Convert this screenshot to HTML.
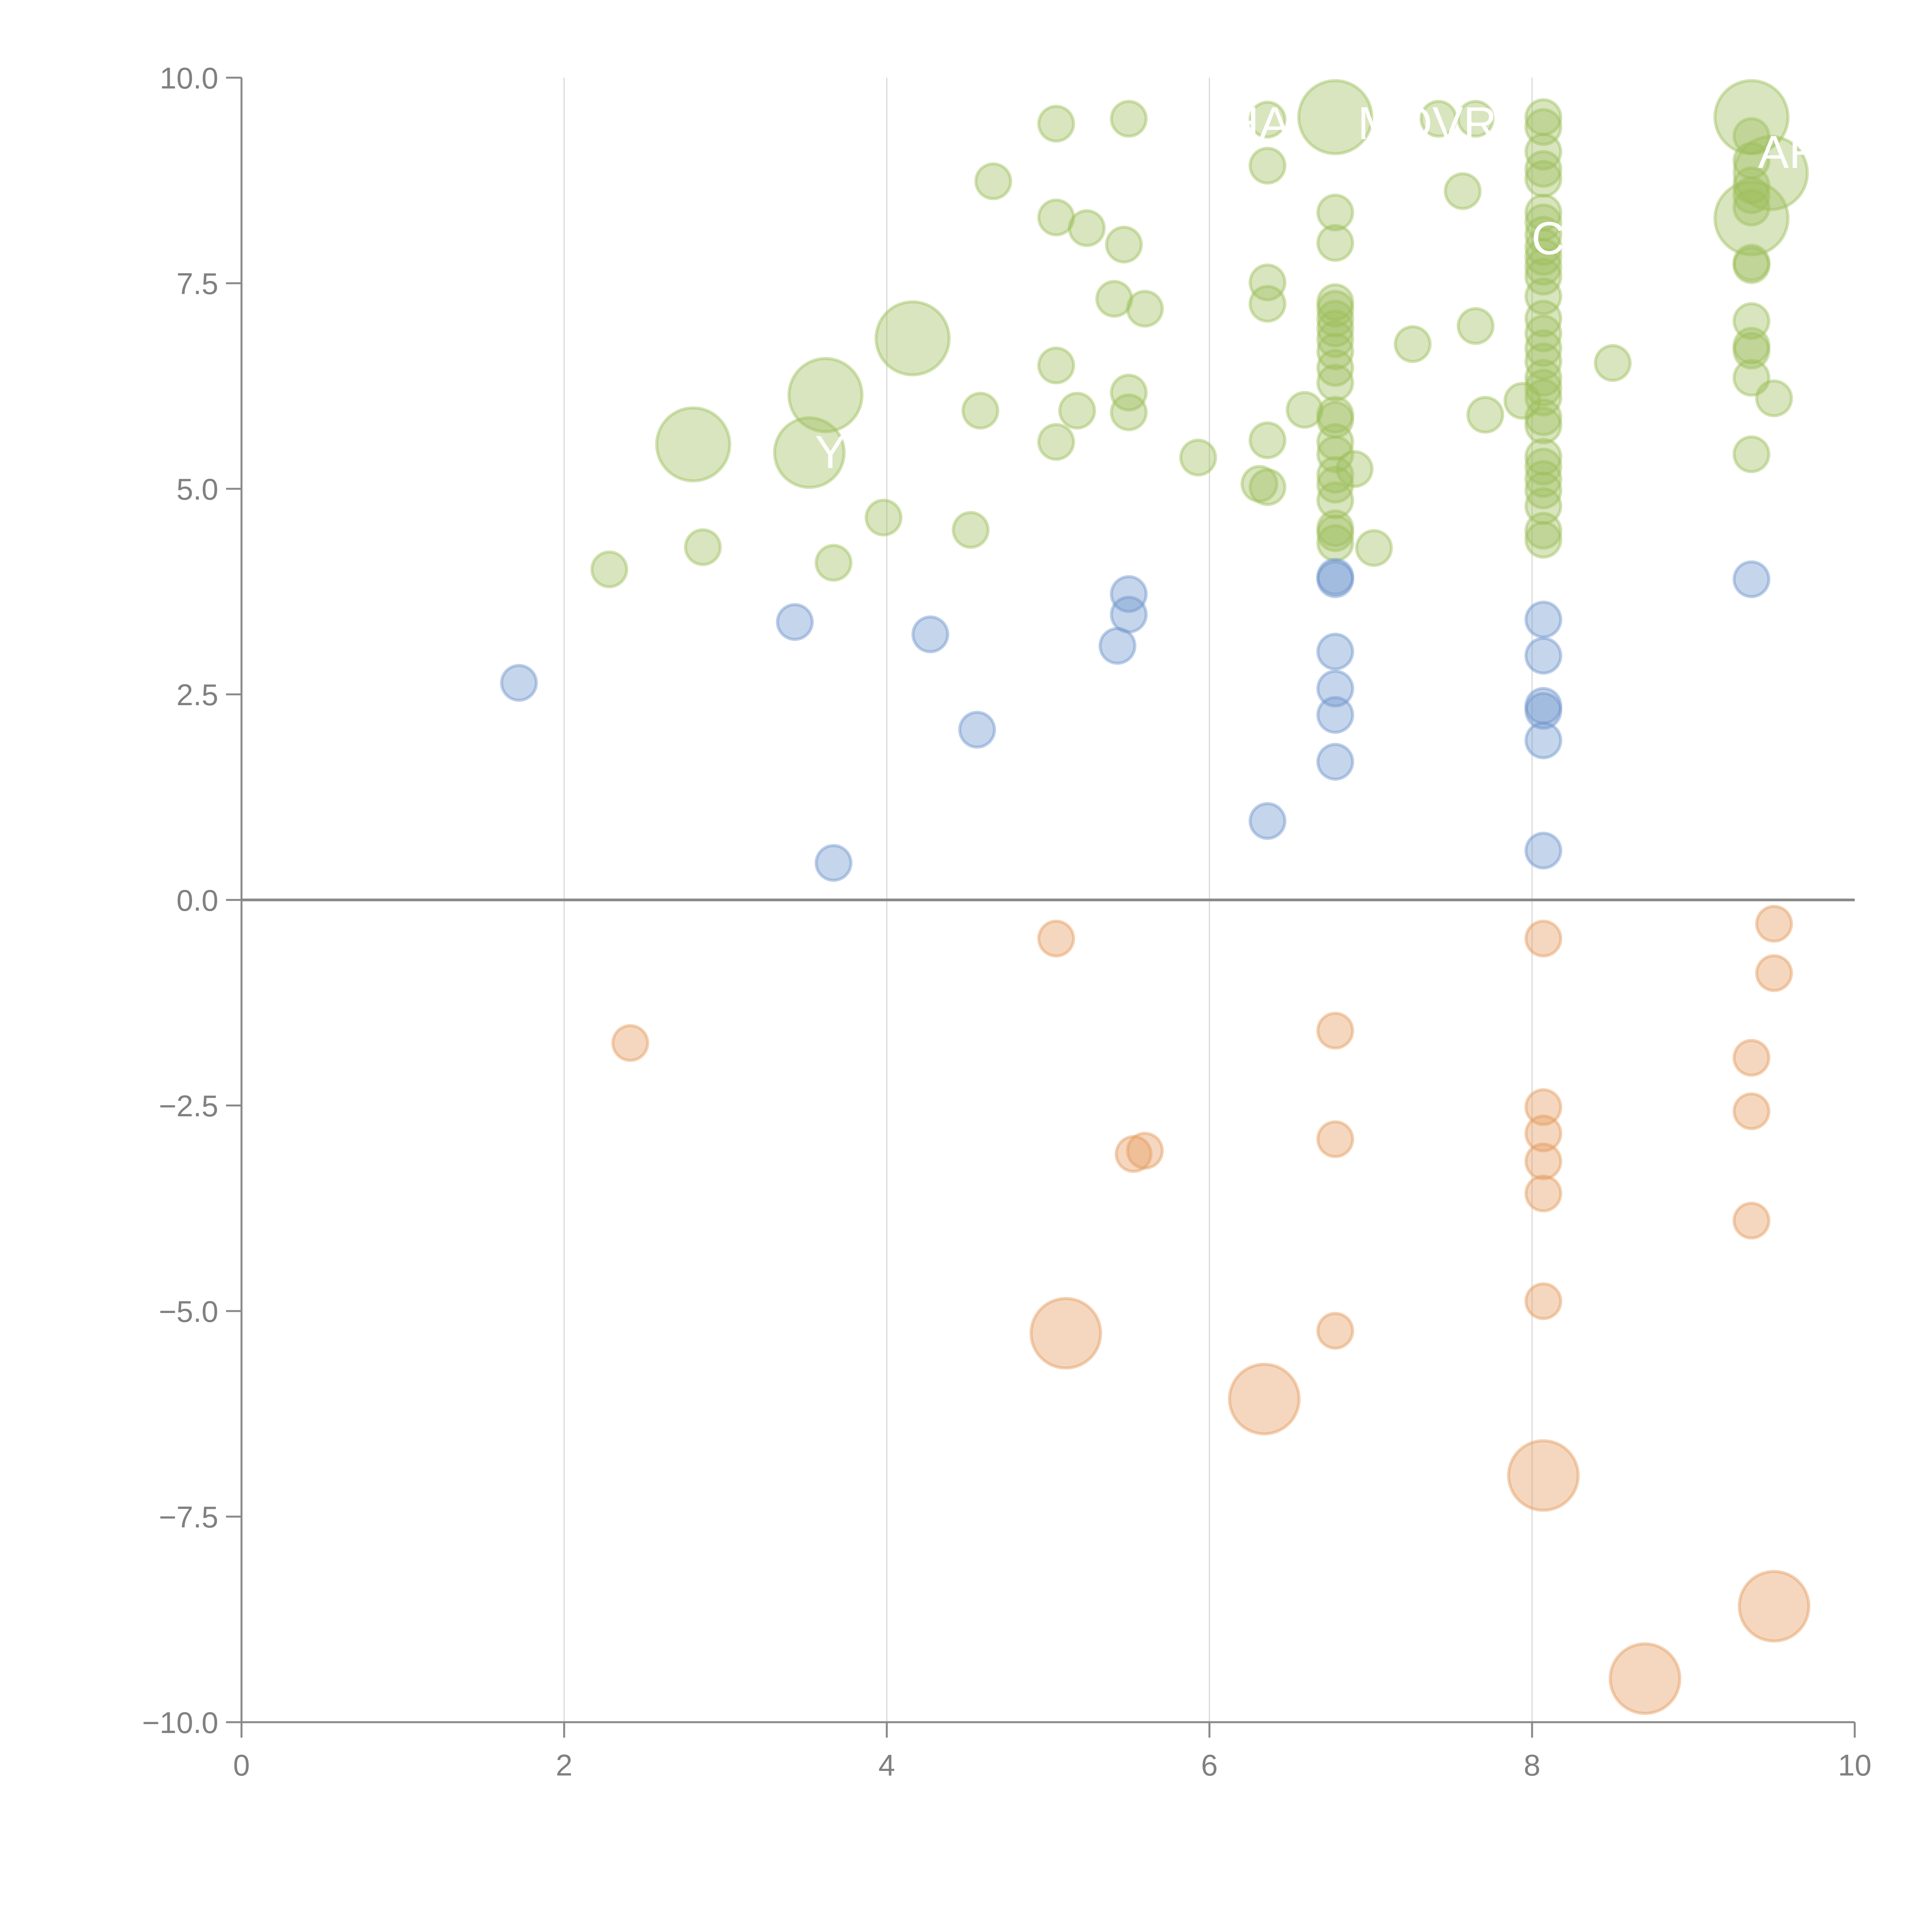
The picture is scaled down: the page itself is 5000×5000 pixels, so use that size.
<!DOCTYPE html>
<html><head><meta charset="utf-8">
<style>
html,body{margin:0;padding:0;background:#fff;}
svg{display:block;}
text{font-family:"Liberation Sans",sans-serif;}
</style></head>
<body>
<svg id="chart" width="5000" height="5000" viewBox="0 0 5000 5000" xmlns="http://www.w3.org/2000/svg">
<g id="grid"></g>
<g id="axes"></g>
<g id="marks"></g>
<g id="labels"></g>
</svg>
<script>
const xTicks = [0, 2, 4, 6, 8, 10];
const xTickLabels = ["0", "2", "4", "6", "8", "10"];
const yTicks = [10, 7.5, 5, 2.5, 0, -2.5, -5, -7.5, -10];
const yTickLabels = ["10.0", "7.5", "5.0", "2.5", "0.0", "\u22122.5", "\u22125.0", "\u22127.5", "\u221210.0"];

const greenX = [5.05,5.50,4.66,5.05,5.24,5.47,5.41,5.60,5.05,5.18,5.50,5.50,4.58,5.05,5.93,3.98,4.52,3.67,2.86,2.28,6.36,6.36,6.36,6.36,6.59,6.36,6.31,6.36,7.26,7.57,7.42,7.65,7.65,7.71,8.50,7.94,9.50,7.02,6.90,
 6.78,6.78,6.78,6.78,6.78,6.78,6.78,6.78,6.78,6.78,6.78,6.78,6.78,6.78,6.78,6.78,6.78,6.78,6.78,6.78,
 8.07,8.07,8.07,8.07,8.07,8.07,8.07,8.07,8.07,8.07,8.07,8.07,8.07,8.07,8.07,8.07,8.07,8.07,8.07,8.07,8.07,8.07,8.07,8.07,8.07,8.07,8.07,8.07,8.07,
 9.36,9.36,9.36,9.36,9.36,9.36,9.36,9.36,9.36,9.36,9.36,9.36,
 6.78,9.36,9.48,9.36,4.16,3.62,2.80,3.52];
const greenY = [9.44,9.50,8.74,8.30,8.17,7.97,7.31,7.19,6.50,5.95,6.17,5.93,5.95,5.57,5.38,4.65,4.50,4.10,4.29,4.02,9.49,8.93,7.51,7.25,5.96,5.59,5.06,5.02,6.76,8.62,9.50,9.50,6.98,5.90,6.53,6.07,6.10,4.28,5.24,
 8.36,7.99,7.27,7.19,7.07,6.95,6.82,6.67,6.47,6.29,5.90,5.84,5.57,5.42,5.17,5.05,4.86,4.52,4.46,4.34,
 9.52,9.40,9.10,8.89,8.77,8.36,8.24,8.09,7.94,7.82,7.70,7.58,7.34,7.07,6.89,6.71,6.55,6.35,6.23,6.11,5.87,5.77,5.39,5.27,5.12,4.98,4.79,4.49,4.38,
 9.29,8.99,8.69,8.57,8.42,7.75,7.72,7.04,6.74,6.68,6.35,5.42,
 9.52,9.52,8.84,8.29,6.83,6.14,5.54,5.44];
const greenSize = [1,1,1,1,1,1,1,1,1,1,1,1,1,1,1,1,1,1,1,1,1,1,1,1,1,1,1,1,1,1,1,1,1,1,1,1,1,1,1,
 1,1,1,1,1,1,1,1,1,1,1,1,1,1,1,1,1,1,1,1,
 1,1,1,1,1,1,1,1,1,1,1,1,1,1,1,1,1,1,1,1,1,1,1,1,1,1,1,1,1,
 1,1,1,1,1,1,1,1,1,1,1,1,
 2.1,2.1,2.1,2.1,2.1,2.1,2.1,2.0];

const blueX = [1.72,3.43,4.27,3.67,4.56,5.50,5.50,5.43,6.36,6.78,6.78,6.78,6.78,6.78,6.78,8.07,8.07,8.07,8.07,8.07,8.07,9.36];
const blueY = [2.64,3.38,3.23,0.45,2.07,3.72,3.47,3.09,0.96,3.93,3.90,3.02,2.57,2.25,1.68,3.41,2.97,2.36,2.30,1.94,0.60,3.90];
const blueSize = [1,1,1,1,1,1,1,1,1,1,1,1,1,1,1,1,1,1,1,1,1,1];

const orangeX = [5.05,2.41,5.53,5.60,6.78,6.78,6.78,8.07,8.07,8.07,8.07,8.07,8.07,9.50,9.50,9.36,9.36,9.36,5.11,6.34,8.07,8.70,9.50];
const orangeY = [-0.47,-1.74,-3.09,-3.05,-1.59,-2.91,-5.24,-0.47,-2.52,-2.84,-3.18,-3.57,-4.88,-0.29,-0.89,-1.92,-2.57,-3.90,-5.27,-6.07,-7.00,-9.47,-8.59];
const orangeSize = [1,1,1,1,1,1,1,1,1,1,1,1,1,1,1,1,1,1,2.0,2.0,2.0,2.0,2.0];

const labelText = ["A","HA","MOVR","AR","C","Y"];
const labelX = [5.75,6.30,7.35,9.60,8.10,3.65];
const labelY = [9.45,9.45,9.45,9.10,8.05,5.45];

const NS = "http://www.w3.org/2000/svg";
const X0 = 625, X1 = 4800, Y10 = 201, Yn10 = 4457;
function sx(v){ return X0 + (v - 0) / 10 * (X1 - X0); }
function sy(v){ return Y10 + (10 - v) / 20 * (Yn10 - Y10); }
const R = 45;

function mk(tag, attrs, parent){
  const e = document.createElementNS(NS, tag);
  for (const k in attrs) e.setAttribute(k, attrs[k]);
  parent.appendChild(e);
  return e;
}
const grid = document.getElementById('grid');
const axes = document.getElementById('axes');
const marks = document.getElementById('marks');
const labels = document.getElementById('labels');

[2,4,6,8].forEach(v => {
  const l = mk('line', {x1:sx(v), x2:sx(v), y1:Y10, y2:Yn10, stroke:'#d8d8d8', 'stroke-width':3}, grid);
  
  
});
const z = mk('line', {x1:X0, x2:X1, y1:sy(0), y2:sy(0), stroke:'#888', 'stroke-width':7}, grid);



const ya = mk('line', {x1:X0, x2:X0, y1:Y10, y2:Yn10, stroke:'#888', 'stroke-width':5}, axes);


const xa = mk('line', {x1:X0, x2:X1, y1:Yn10, y2:Yn10, stroke:'#888', 'stroke-width':5}, axes);



xTicks.forEach((v,i) => {
  const t = mk('line', {x1:sx(v), x2:sx(v), y1:Yn10, y2:Yn10+40, stroke:'#888', 'stroke-width':5}, axes);
  
  
  const tx = mk('text', {x:sx(v), y:Yn10+138, 'text-anchor':'middle', 'font-size':78, fill:'#808080'}, axes);
  tx.textContent = xTickLabels[i];
  
  
});
yTicks.forEach((v,i) => {
  const t = mk('line', {x1:X0-40, x2:X0, y1:sy(v), y2:sy(v), stroke:'#888', 'stroke-width':5}, axes);
  
  
  const tx = mk('text', {x:X0-60, y:sy(v)+28, 'text-anchor':'end', 'font-size':78, fill:'#808080'}, axes);
  tx.textContent = yTickLabels[i];
  
  
});

function drawSeries(xs, ys, ss, color, name){
  for (let i = 0; i < xs.length; i++){
    const c = mk('circle', {cx:sx(xs[i]), cy:sy(ys[i]), r:R*ss[i], fill:color, 'fill-opacity':0.4, stroke:color, 'stroke-opacity':0.45, 'stroke-width':8}, marks);
    
    
  }
}
drawSeries(greenX, greenY, greenSize, '#9dbf5c', 'green-bubble');
drawSeries(blueX, blueY, blueSize, '#6f95cc', 'blue-bubble');
drawSeries(orangeX, orangeY, orangeSize, '#e59c5e', 'orange-bubble');

labelText.forEach((s,i) => {
  const t = mk('text', {x:sx(labelX[i]), y:sy(labelY[i])+42, 'text-anchor':'middle', 'font-size':120, fill:'#ffffff'}, labels);
  t.textContent = s;
  
  
});
</script>
</body></html>
